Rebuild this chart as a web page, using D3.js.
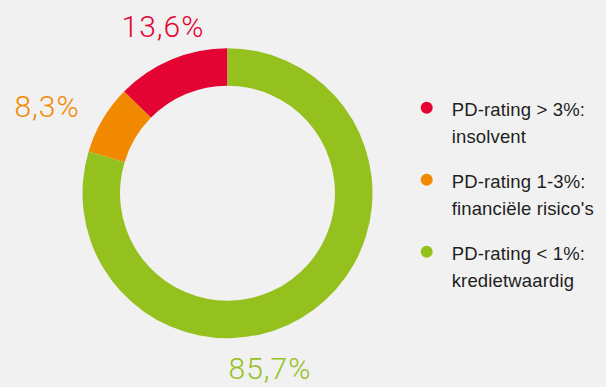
<!DOCTYPE html>
<html>
<head>
<meta charset="utf-8">
<script src="https://cdn.jsdelivr.net/npm/d3@7"></script>
<style>
  html, body { margin: 0; padding: 0; background: #f1f1f1; }
  svg { display: block; }
</style>
</head>
<body>
<svg id="chart" width="606" height="387"></svg>
<script>
// Share of companies per PD-rating class
const categories = ["PD-rating > 3%:", "PD-rating 1-3%:", "PD-rating < 1%:"];
const subLabels = ["insolvent", "financiële risico's", "kredietwaardig"];
const values = [13.6, 8.3, 85.7];
const valueLabels = ["13,6%", "8,3%", "85,7%"];
const colors = ["#e30433", "#f18a00", "#95c11f"];

const svg = d3.select("#chart");
const cx = 227.5, cy = 193.2;
const outerR = 145, innerR = 107.5;

// Slices run counter-clockwise from twelve o'clock
const pie = d3.pie()
  .sort(null)
  .value(d => d)
  .startAngle(0)
  .endAngle(-2 * Math.PI);

const arcs = pie(values);
const arc = d3.arc().innerRadius(innerR).outerRadius(outerR);

const g = svg.append("g").attr("transform", `translate(${cx},${cy})`);
g.selectAll("path")
  .data(arcs)
  .join("path")
  .attr("d", arc)
  .attr("fill", (d, i) => colors[i]);

// Percentage labels around the ring
const labelPos = [
  { x: 163, y: 36.5 },
  { x: 47, y: 117 },
  { x: 270, y: 379 }
];
svg.selectAll("text.pct")
  .data(valueLabels)
  .join("text")
  .attr("class", "pct")
  .attr("x", (d, i) => labelPos[i].x)
  .attr("y", (d, i) => labelPos[i].y)
  .attr("text-anchor", "middle")
  .attr("font-family", "Roboto, 'Liberation Sans', sans-serif")
  .attr("font-weight", 300)
  .attr("font-size", 30)
  .attr("letter-spacing", 1)
  .attr("fill", (d, i) => colors[i])
  .text(d => d);

// Legend
const legendX = 426.7, legendTextX = 451.7, legendY0 = 107.7, legendStep = 72;
const legend = svg.selectAll("g.legend")
  .data(categories)
  .join("g")
  .attr("class", "legend")
  .attr("transform", (d, i) => `translate(0,${legendY0 + i * legendStep})`);

legend.append("circle")
  .attr("cx", legendX)
  .attr("cy", 0)
  .attr("r", 6)
  .attr("fill", (d, i) => colors[i]);

const lt = legend.append("text")
  .attr("font-family", "'Liberation Sans', Arial, sans-serif")
  .attr("font-size", 18.5)
  .attr("letter-spacing", 0.15)
  .attr("fill", "#1e1e1e");
lt.append("tspan")
  .attr("x", legendTextX)
  .attr("y", 8.3)
  .text(d => d);
lt.append("tspan")
  .attr("x", legendTextX)
  .attr("y", 35.5)
  .text((d, i) => subLabels[i]);
</script>
</body>
</html>
